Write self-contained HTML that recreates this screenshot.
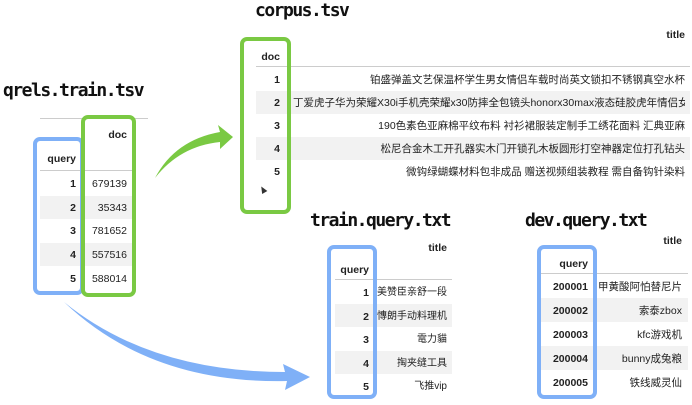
<!DOCTYPE html>
<html><head><meta charset="utf-8"><style>
body{margin:0;width:692px;height:405px;background:#fff;position:relative;overflow:hidden;font-family:"Liberation Sans","Noto Sans CJK SC",sans-serif;}
.t{position:absolute;font-family:"DejaVu Sans Mono",monospace;font-weight:bold;font-size:18px;letter-spacing:-1.5px;color:#111;white-space:nowrap;}
.c{position:absolute;font-size:10.5px;line-height:12px;color:#222;white-space:nowrap;text-align:right;}
.q{font-size:10px;}
.b{font-weight:bold;}
.s{position:absolute;background:#f2f2f2;}
.l{position:absolute;height:1px;background:#ccc;}
.bx{position:absolute;border-radius:7px;box-sizing:border-box;}
.g{border:4px solid #7ac943;}
.bl{border:4px solid #7fb0f7;}
</style></head><body>
<div class="s" style="left:40px;top:196px;width:92px;height:23px"></div>
<div class="s" style="left:40px;top:243px;width:92px;height:23px"></div>
<div class="s" style="left:256px;top:91px;width:434px;height:23px"></div>
<div class="s" style="left:256px;top:137px;width:434px;height:23px"></div>
<div class="s" style="left:335px;top:304px;width:117px;height:23px"></div>
<div class="s" style="left:335px;top:351px;width:117px;height:23px"></div>
<div class="s" style="left:540px;top:298px;width:148px;height:24px"></div>
<div class="s" style="left:540px;top:346px;width:148px;height:24px"></div>
<div class="l" style="left:40px;top:118px;width:108px"></div>
<div class="l" style="left:40px;top:170px;width:92px"></div>
<div class="l" style="left:256px;top:66px;width:434px"></div>
<div class="l" style="left:335px;top:279px;width:117px"></div>
<div class="l" style="left:540px;top:273px;width:148px"></div>

<div class="t" style="left:3px;top:80px">qrels.train.tsv</div>
<div class="t" style="left:255px;top:0px">corpus.tsv</div>
<div class="t" style="left:310px;top:210px">train.query.txt</div>
<div class="t" style="left:525px;top:210px">dev.query.txt</div>

<div class="c b" style="right:565px;top:129px">doc</div>
<div class="c b" style="right:616px;top:153px">query</div>
<div class="c b" style="right:616px;top:178px">1</div><div class="c" style="right:565px;top:178px">679139</div>
<div class="c b" style="right:616px;top:202px">2</div><div class="c" style="right:565px;top:202px">35343</div>
<div class="c b" style="right:616px;top:225px">3</div><div class="c" style="right:565px;top:225px">781652</div>
<div class="c b" style="right:616px;top:249px">4</div><div class="c" style="right:565px;top:249px">557516</div>
<div class="c b" style="right:616px;top:273px">5</div><div class="c" style="right:565px;top:273px">588014</div>

<div class="c b" style="right:7px;top:29px">title</div>
<div class="c b" style="right:412px;top:51px">doc</div>
<div class="c b" style="right:412px;top:74px">1</div><div class="c" style="right:7px;top:74px">铂盛弹盖文艺保温杯学生男女情侣车载时尚英文锁扣不锈钢真空水杯</div>
<div class="c b" style="right:412px;top:97px">2</div><div class="c" style="left:293px;top:97px;width:392px;overflow:hidden;text-align:right">丁爱虎子华为荣耀X30i手机壳荣耀x30防摔全包镜头honorx30max液态硅胶虎年情侣女...</div>
<div class="c b" style="right:412px;top:120px">3</div><div class="c" style="right:7px;top:120px">190色素色亚麻棉平纹布料 衬衫裙服装定制手工绣花面料 汇典亚麻</div>
<div class="c b" style="right:412px;top:143px">4</div><div class="c" style="right:7px;top:143px">松尼合金木工开孔器实木门开锁孔木板圆形打空神器定位打孔钻头</div>
<div class="c b" style="right:412px;top:166px">5</div><div class="c" style="right:7px;top:166px">微钩绿蝴蝶材料包非成品 赠送视频组装教程 需自备钩针染料</div>
<div style="position:absolute;left:260px;top:186px;width:0;height:0;border-left:3px solid transparent;border-right:3px solid transparent;border-bottom:7px solid #333;transform:rotate(-30deg)"></div>

<div class="c b" style="right:245px;top:242px">title</div>
<div class="c b" style="right:323px;top:264px">query</div>
<div class="c b" style="right:323px;top:287px">1</div><div class="c q" style="right:245px;top:287px">美赞臣亲舒一段</div>
<div class="c b" style="right:323px;top:311px">2</div><div class="c q" style="right:245px;top:311px">慱朗手动料理机</div>
<div class="c b" style="right:323px;top:334px">3</div><div class="c q" style="right:245px;top:334px">電力貓</div>
<div class="c b" style="right:323px;top:358px">4</div><div class="c q" style="right:245px;top:358px">掏夹缝工具</div>
<div class="c b" style="right:323px;top:381px">5</div><div class="c q" style="right:245px;top:381px">飞推vip</div>

<div class="c b" style="right:10px;top:235px">title</div>
<div class="c b" style="right:104px;top:258px">query</div>
<div class="c b" style="right:104px;top:281px">200001</div><div class="c" style="right:10px;top:281px">甲黄酸阿怕替尼片</div>
<div class="c b" style="right:104px;top:305px">200002</div><div class="c" style="right:10px;top:305px">索泰zbox</div>
<div class="c b" style="right:104px;top:329px">200003</div><div class="c" style="right:10px;top:329px">kfc游戏机</div>
<div class="c b" style="right:104px;top:353px">200004</div><div class="c" style="right:10px;top:353px">bunny成兔粮</div>
<div class="c b" style="right:104px;top:377px">200005</div><div class="c" style="right:10px;top:377px">铁线威灵仙</div>

<div class="bx bl" style="left:33px;top:137px;width:51px;height:158px"></div>
<div class="bx g" style="left:81px;top:115px;width:55px;height:182px"></div>
<div class="bx g" style="left:240px;top:37px;width:51px;height:177px"></div>
<div class="bx bl" style="left:327px;top:245px;width:50px;height:154px"></div>
<div class="bx bl" style="left:537px;top:245px;width:60px;height:154px"></div>

<svg style="position:absolute;left:0;top:0" width="692" height="405">
<path d="M155,178 Q175,140 220,132 L218,125 L233,137 L220,149 L220,142 Q180,146 155,178 Z" fill="#7ac943"/>
<path d="M64,302 Q150,372 285,372 L283,364 L310,377 L285,390 L287,381 Q150,384 64,302 Z" fill="#7fb0f7"/>
</svg>
</body></html>
